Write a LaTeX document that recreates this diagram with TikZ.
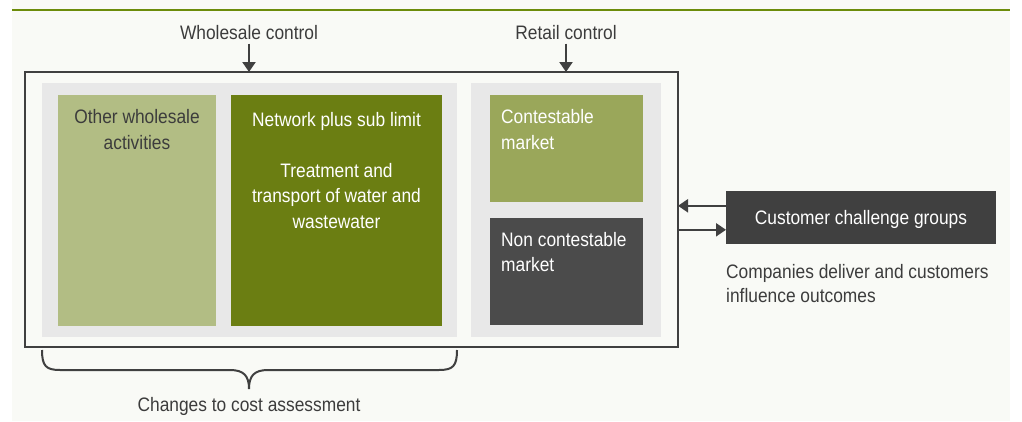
\documentclass[tikz,border=0pt]{standalone}
\usepackage{fontspec}
\setmainfont{Liberation Sans}[FakeStretch=0.89]
\usepackage{xcolor}
\usepackage{tikz}
\usetikzlibrary{arrows.meta,positioning}

\definecolor{pagebg}{RGB}{249,250,246}
\definecolor{rulegreen}{RGB}{108,140,10}
\definecolor{panelgrey}{RGB}{232,232,232}
\definecolor{linegrey}{RGB}{64,64,64}
\definecolor{darktext}{RGB}{60,60,60}
\definecolor{paleolive}{RGB}{178,189,132}
\definecolor{deepolive}{RGB}{107,126,18}
\definecolor{midolive}{RGB}{154,167,90}
\definecolor{slate}{RGB}{75,75,75}
\definecolor{charcoal}{RGB}{64,64,64}

\begin{document}
\begin{tikzpicture}[x=1pt,y=-1pt,>={Triangle[length=10pt,width=13pt]},
  every node/.style={font=\fontsize{19.5}{25.5}\selectfont},
  block/.style={anchor=north west,inner sep=0pt,outer sep=0pt},
  txt/.style={anchor=base,inner sep=0pt,align=center},
  conn/.style={->,draw=linegrey,line width=2.2pt}]
\useasboundingbox (0,0) rectangle (1022,421);
\fill[pagebg] (12,0) rectangle (1010,421);
\draw[rulegreen,line width=1.5pt] (12,10) -- (1010,10);

% frame and the two grey panels
\node[block,draw=linegrey,line width=2.8pt,fill=pagebg,minimum width=653pt,minimum height=275pt] (outer) at (25,72) {};
\node[block,fill=panelgrey,minimum width=415pt,minimum height=254pt] (wpanel) at (42,83) {};
\node[block,fill=panelgrey,minimum width=190pt,minimum height=254pt] (rpanel) at (471,83) {};

% wholesale blocks (text nodes sit on their last line)
\node[block,fill=paleolive,minimum width=158pt,minimum height=231pt] (other) at (58,95) {};
\node[block,fill=deepolive,minimum width=211pt,minimum height=231pt,right=15pt of other] (network) {};
\node[txt,text=darktext] (othertxt) at ([yshift=-54.3pt]other.north) {Other wholesale\\activities};
\node[txt,text=white] (nettxt) at ([yshift=-133pt]network.north) {Network plus sub limit\\[25.5pt]Treatment and\\transport of water and\\wastewater};

% retail blocks
\node[block,fill=midolive,minimum width=153pt,minimum height=107pt] (contest) at (490,95) {};
\node[block,fill=slate,minimum width=153pt,minimum height=107pt,below=16pt of contest] (noncontest) {};
\node[txt,anchor=base west,align=left,text=white] (contxt) at ([xshift=11pt,yshift=-54pt]contest.north west) {Contestable\\market};
\node[txt,anchor=base west,align=left,text=white] (noncontxt) at ([xshift=11pt,yshift=-53.7pt]noncontest.north west) {Non contestable\\market};

% customer side
\node[block,fill=charcoal,text=white,text depth=0pt,minimum width=270pt,minimum height=53pt] (ccg) at (726,191) {Customer challenge groups};
\node[txt,anchor=base west,align=left,text=darktext,font=\fontsize{19.5}{24.4}\selectfont] (outcomes) at ([yshift=-58.4pt]ccg.south west) {Companies deliver and customers\\influence outcomes};
\coordinate (ccgin) at ([yshift=11.7pt]ccg.west);
\coordinate (ccgout) at ([yshift=-12.3pt]ccg.west);
\draw[conn] (ccgin) -- (ccgin -| outer.east);
\draw[conn] (ccgout -| outer.east) -- (ccgout);

% control labels
\node[anchor=base,inner sep=4pt,text=darktext] (wlab) at (249,39.3) {Wholesale control};
\node[anchor=base,inner sep=4pt,text=darktext] (rlab) at (566,39.3) {Retail control};
\draw[conn] (wlab.south) -- (wlab.south |- outer.north);
\draw[conn] (rlab.south) -- (rlab.south |- outer.north);

% brace under the wholesale panel
\draw[linegrey,line width=2pt] (42,350) .. controls (42,366) and (46,370) .. (60,370) -- (230,370)
  .. controls (244,370) and (249,376) .. (249,389) .. controls (249,376) and (254,370) .. (268,370)
  -- (439,370) .. controls (453,370) and (457,366) .. (457,350);
\node[anchor=base,inner sep=0pt,text=darktext] (changes) at (249,411.5) {Changes to cost assessment};
\end{tikzpicture}
\end{document}
